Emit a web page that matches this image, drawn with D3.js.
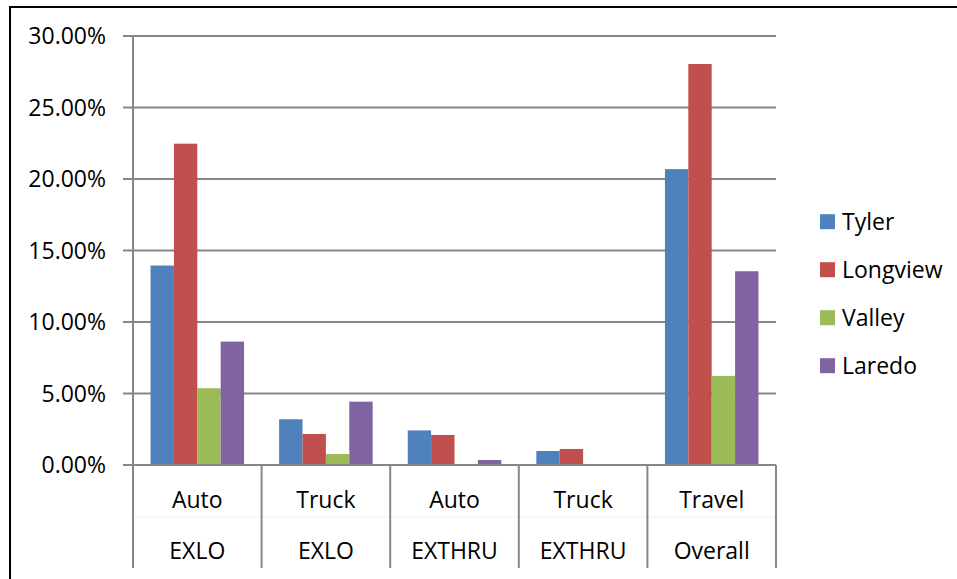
<!DOCTYPE html>
<html>
<head>
<meta charset="utf-8">
<script src="https://cdn.jsdelivr.net/npm/d3@7"></script>
<style>
  html, body { margin: 0; padding: 0; background: #fff; }
  svg { display: block; }
  text { font-family: "Open Sans", "Liberation Sans", sans-serif; fill: #000; }
</style>
</head>
<body>
<svg id="chart" width="957" height="579"></svg>
<script>
// ---- data ----
const catLine1 = ["Auto", "Truck", "Auto", "Truck", "Travel"];
const catLine2 = ["EXLO", "EXLO", "EXTHRU", "EXTHRU", "Overall"];
const seriesNames = ["Tyler", "Longview", "Valley", "Laredo"];
const seriesColors = ["#4F81BD", "#C0504D", "#9BBB59", "#8064A2"];
const tyler    = [0.1395, 0.0320, 0.0242, 0.0098, 0.2069];
const longview = [0.2247, 0.0217, 0.0210, 0.0112, 0.2804];
const valley   = [0.0537, 0.0077, 0.0000, 0.0000, 0.0623];
const laredo   = [0.0863, 0.0443, 0.0035, 0.0000, 0.1355];
const yTicks   = [0, 0.05, 0.10, 0.15, 0.20, 0.25, 0.30];

(function () {
const seriesValues = [tyler, longview, valley, laredo];
const cats = catLine1.map((d, i) => i);
const fs = 23;

const svg = d3.select("#chart");

// outer border
svg.append("path")
  .attr("d", "M10,590 L10,7 L970,7")
  .attr("fill", "none").attr("stroke", "#000").attr("stroke-width", 2);

const pLeft = 133, pRight = 776, pTop = 36, pBottom = 465;

const x = d3.scaleBand().domain(cats).range([pLeft, pRight]).paddingInner(0).paddingOuter(0);
const xs = d3.scaleBand().domain(d3.range(seriesNames.length))
  .range([0, x.bandwidth()]).paddingInner(0).paddingOuter(0.75);
const y = d3.scaleLinear().domain([0, 0.30]).range([pBottom, pTop]);

const gridColor = "#878787";

// gridlines
svg.append("g").selectAll("line").data(yTicks).join("line")
  .attr("x1", pLeft - 10).attr("x2", pRight)
  .attr("y1", d => y(d)).attr("y2", d => y(d))
  .attr("stroke", gridColor).attr("stroke-width", 2);

// y axis labels
const fmt = d3.format(".2%");
svg.append("g").selectAll("text").data(yTicks).join("text")
  .attr("x", 106).attr("y", d => y(d)).attr("dy", "0.36em")
  .attr("text-anchor", "end").attr("font-size", fs)
  .text(d => fmt(d));

// bars
const gBars = svg.append("g");
seriesValues.forEach((vals, si) => {
  gBars.append("g").selectAll("rect").data(vals).join("rect")
    .attr("x", (d, i) => x(i) + xs(si))
    .attr("width", xs.bandwidth())
    .attr("y", d => y(d))
    .attr("height", d => y(0) - y(d))
    .attr("fill", seriesColors[si]);
});

// y axis line
svg.append("line").attr("x1", pLeft).attr("x2", pLeft).attr("y1", pTop).attr("y2", pBottom)
  .attr("stroke", gridColor).attr("stroke-width", 2);

// x axis line
svg.append("line").attr("x1", pLeft).attr("x2", pRight).attr("y1", pBottom).attr("y2", pBottom)
  .attr("stroke", gridColor).attr("stroke-width", 2);

// faint separator between label rows
svg.append("line").attr("x1", pLeft).attr("x2", pRight).attr("y1", 517).attr("y2", 517)
  .attr("stroke", "#f0f0f0").attr("stroke-width", 1);

// category dividers
const dividers = cats.map(i => x(i)).concat([pRight]);
svg.append("g").selectAll("line").data(dividers).join("line")
  .attr("x1", d => d).attr("x2", d => d).attr("y1", pBottom).attr("y2", 568)
  .attr("stroke", gridColor).attr("stroke-width", 2);

// category labels
svg.append("g").selectAll("text").data(cats).join("text")
  .attr("x", i => x(i) + x.bandwidth() / 2).attr("y", 508)
  .attr("text-anchor", "middle").attr("font-size", fs)
  .text(i => catLine1[i]);
svg.append("g").selectAll("text").data(cats).join("text")
  .attr("x", i => x(i) + x.bandwidth() / 2).attr("y", 559)
  .attr("text-anchor", "middle").attr("font-size", fs)
  .text(i => catLine2[i]);

// legend
const legendY = d3.scalePoint().domain(d3.range(seriesNames.length)).range([221.7, 365.7]);
const lg = svg.append("g");
lg.selectAll("rect").data(seriesNames).join("rect")
  .attr("x", 820).attr("y", (d, i) => legendY(i) - 7.5)
  .attr("width", 15).attr("height", 15)
  .attr("fill", (d, i) => seriesColors[i]);
lg.selectAll("text").data(seriesNames).join("text")
  .attr("x", 842).attr("y", (d, i) => legendY(i)).attr("dy", "0.36em")
  .attr("font-size", fs)
  .text(d => d);
})();
</script>
</body>
</html>
